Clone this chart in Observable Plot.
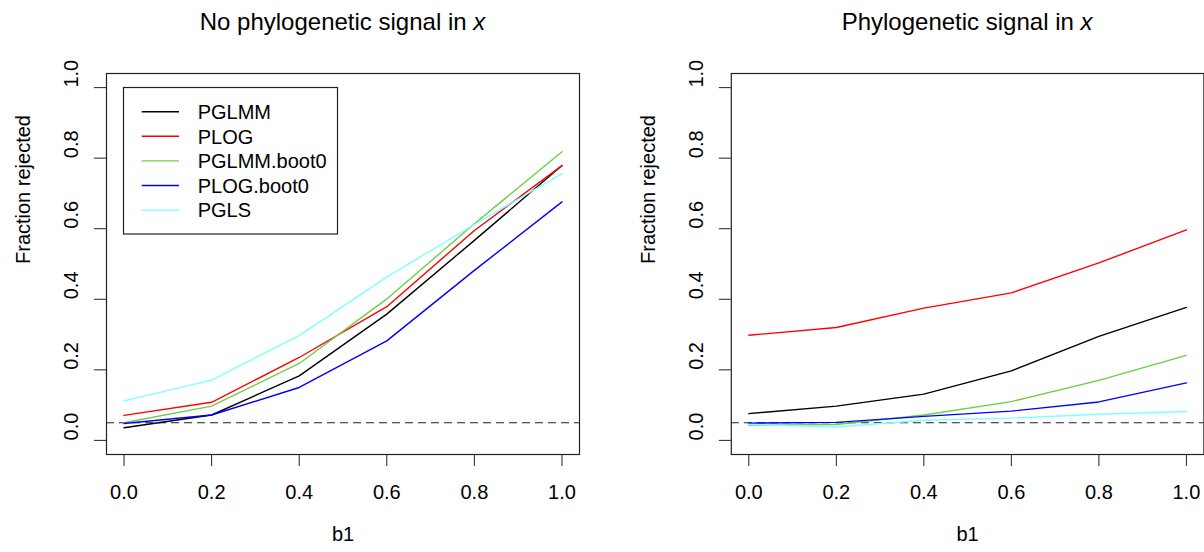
<!DOCTYPE html>
<html><head><meta charset="utf-8">
<script src="https://cdn.jsdelivr.net/npm/d3@7"></script>
<script src="https://cdn.jsdelivr.net/npm/@observablehq/plot@0.6"></script>
<style>
body{margin:0;background:#fff}
#wrap{display:flex;width:1204px;height:552px;overflow:hidden}
svg{display:block;overflow:visible}
</style>
</head><body><div id="wrap"></div>
<script>
// ---- data ----
const b1 = [0.0, 0.2, 0.4, 0.6, 0.8, 1.0];
const methods = ["PGLMM", "PLOG", "PGLMM.boot0", "PLOG.boot0", "PGLS"];
const methodColors = ["#000000", "#FF0000", "#6CCF45", "#0000FF", "#7FFFFF"];
const yTicks = [0.0, 0.2, 0.4, 0.6, 0.8, 1.0];
const nominalLevel = 0.05;

// Panel 1: no phylogenetic signal in x
const noSig_PGLMM      = [0.036, 0.072, 0.183, 0.358, 0.567, 0.779];
const noSig_PLOG       = [0.071, 0.108, 0.235, 0.379, 0.595, 0.779];
const noSig_PGLMMboot0 = [0.050, 0.097, 0.218, 0.401, 0.614, 0.818];
const noSig_PLOGboot0  = [0.048, 0.072, 0.150, 0.282, 0.482, 0.676];
const noSig_PGLS       = [0.112, 0.171, 0.297, 0.463, 0.612, 0.756];

// Panel 2: phylogenetic signal in x
const sig_PGLMM      = [0.076, 0.097, 0.131, 0.197, 0.295, 0.377];
const sig_PLOG       = [0.298, 0.320, 0.375, 0.418, 0.503, 0.597];
const sig_PGLMMboot0 = [0.043, 0.045, 0.072, 0.110, 0.170, 0.241];
const sig_PLOGboot0  = [0.049, 0.051, 0.068, 0.083, 0.109, 0.163];
const sig_PGLS       = [0.045, 0.038, 0.057, 0.063, 0.074, 0.082];

const titles = ["No phylogenetic signal in ", "Phylogenetic signal in "];
const xLabel = "b1";
const yLabel = "Fraction rejected";

function rowsFrom(seriesList) {
  const rows = [];
  seriesList.forEach((vals, k) => vals.forEach((v, i) => rows.push({method: methods[k], b1: b1[i], value: v})));
  return rows;
}

const FONT = "'Liberation Sans', Arial, Helvetica, sans-serif";

function panel({series, title, width, marginLeft, marginRight, legend}) {
  const rows = rowsFrom(series);
  const chart = Plot.plot({
    width, height: 552,
    marginLeft, marginRight, marginTop: 73, marginBottom: 98,
    x: {domain: [-0.04, 1.04], label: null},
    y: {domain: [-0.04, 1.04], label: null},
    color: {domain: methods, range: methodColors},
    style: {fontFamily: FONT, background: "white", color: "black"},
    marks: [
      Plot.ruleY([nominalLevel], {stroke: "#222", strokeWidth: 1.2, strokeDasharray: "8,5"}),
      Plot.line(rows, {x: "b1", y: "value", z: "method", stroke: "method", strokeWidth: 1.4}),
      Plot.frame({stroke: "#222", strokeWidth: 1.2}),
      Plot.axisX(b1, {tickSize: 12, tickPadding: 18, tickFormat: ".1f", fontSize: 20, stroke: "#222"}),
      Plot.axisY(yTicks, {tickSize: 12, tickFormat: () => "", stroke: "#222"}),
      Plot.text(yTicks, {y: d => d, frameAnchor: "left", dx: -35, rotate: -90, text: d3.format(".1f"), fontSize: 20, fill: "black"}),
      Plot.text([yLabel], {frameAnchor: "left", dx: -83, rotate: -90, fontSize: 20, fill: "black"}),
      Plot.text([xLabel], {frameAnchor: "bottom", dy: 86, fontSize: 20, fill: "black"})
    ]
  });
  const svg = d3.select(chart.tagName.toLowerCase() === "svg" ? chart : chart.querySelector("svg"));
  const cx = marginLeft + (width - marginLeft - marginRight) / 2;
  const t = svg.append("text").attr("x", cx).attr("y", 30).attr("text-anchor", "middle")
    .attr("font-size", 24).attr("font-family", FONT).attr("fill", "black");
  t.append("tspan").text(title);
  t.append("tspan").attr("font-style", "italic").text("x");
  if (legend) {
    const g = svg.append("g").attr("font-family", FONT).attr("font-size", 20).attr("text-anchor", "start");
    g.append("rect").attr("x", 123.5).attr("y", 87.5).attr("width", 214).attr("height", 146.5)
      .attr("fill", "white").attr("stroke", "#222").attr("stroke-width", 1.2);
    methods.forEach((m, i) => {
      const y = 111.7 + i * 24.6;
      g.append("line").attr("x1", 141.7).attr("x2", 179).attr("y1", y).attr("y2", y)
        .attr("stroke", methodColors[i]).attr("stroke-width", 1.4);
      g.append("text").attr("x", 197.7).attr("y", y).attr("dy", "0.36em")
        .attr("text-anchor", "start").attr("fill", "black").text(m);
    });
  }
  return chart;
}

const wrap = document.getElementById("wrap");
wrap.appendChild(panel({
  series: [noSig_PGLMM, noSig_PLOG, noSig_PGLMMboot0, noSig_PLOGboot0, noSig_PGLS],
  title: titles[0], width: 620, marginLeft: 106, marginRight: 41, legend: true
}));
wrap.appendChild(panel({
  series: [sig_PGLMM, sig_PLOG, sig_PGLMMboot0, sig_PLOGboot0, sig_PGLS],
  title: titles[1], width: 584, marginLeft: 110.8, marginRight: 0.6, legend: false
}));
</script>
</body></html>
